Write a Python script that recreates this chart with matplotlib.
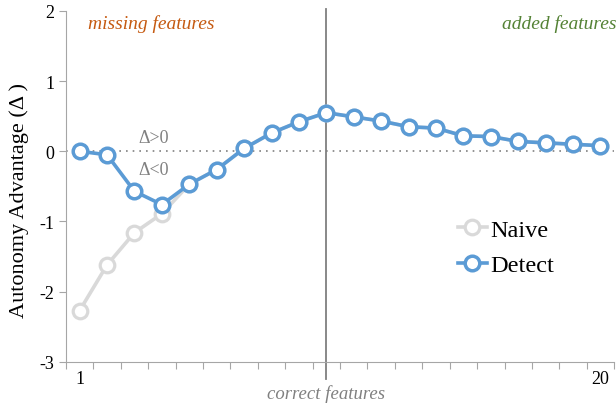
import matplotlib.pyplot as plt

# number of features on the x axis (category positions)
features = list(range(1, 21))
naive = [-2.27, -1.62, -1.16, -0.89, -0.47, -0.26, 0.04, 0.26, 0.42, 0.55,
         0.49, 0.43, 0.35, 0.33, 0.22, 0.21, 0.14, 0.12, 0.10, 0.08]
detect = [0.0, -0.05, -0.57, -0.76, -0.47, -0.26, 0.04, 0.26, 0.42, 0.55,
          0.49, 0.43, 0.35, 0.33, 0.22, 0.21, 0.14, 0.12, 0.10, 0.08]
y_ticks = [-3, -2, -1, 0, 1, 2]
correct_at = 10

plt.rcParams['font.family'] = ['Liberation Serif', 'DejaVu Serif']

fig = plt.figure(figsize=(6.16, 4.1), dpi=100)
ax = fig.add_axes([0.107, 0.115, 0.89, 0.856])

ax.plot(features, naive, color="#d9d9d9", lw=2.6, marker="o", ms=10.5,
        mfc="white", mec="#d9d9d9", mew=2.3, label="Naive", zorder=3)
ax.plot(features, detect, color="#5b9bd5", lw=2.6, marker="o", ms=10.5,
        mfc="white", mec="#5b9bd5", mew=2.5, label="Detect", zorder=4)

ax.axhline(0, color="#808080", lw=1.2, ls=(0, (1, 3)), zorder=1)
ax.plot([correct_at, correct_at], [-3.25, 2.03], color="#7f7f7f", lw=1.3,
        clip_on=False, zorder=2)

ax.set_xlim(0.5, 20.5)
ax.set_ylim(-3, 2)
ax.set_yticks(y_ticks)
ax.set_yticklabels([str(v) for v in y_ticks], fontsize=13)
ax.set_xticks([x + 0.5 for x in range(0, 21)])
ax.set_xticklabels([])
ax.set_xticks([1, 20], minor=True)
ax.set_xticklabels(["1", "20"], minor=True, fontsize=13)
ax.tick_params(axis="x", which="minor", length=0, pad=6)
ax.tick_params(axis="x", which="major", length=5, color="#a6a6a6")
ax.tick_params(axis="y", length=5, color="#a6a6a6")

for s in ["top", "right"]:
    ax.spines[s].set_visible(False)
for s in ["left", "bottom"]:
    ax.spines[s].set_color("#a6a6a6")

ax.set_ylabel("Autonomy Advantage (Δ )", fontsize=16)
ax.yaxis.set_label_coords(-0.068, 0.464)

ax.text(1.3, 1.82, "missing features", color="#c55a11", style="italic",
        fontsize=14, va="center")
ax.text(20.6, 1.82, "added features", color="#548235", style="italic",
        fontsize=14, va="center", ha="right")
ax.text(3.15, 0.2, "Δ>0", color="#808080", fontsize=13, va="center")
ax.text(3.15, -0.26, "Δ<0", color="#808080", fontsize=13, va="center")
ax.text(correct_at, -3.44, "correct features", color="#808080",
        style="italic", fontsize=13.5, ha="center", va="center")

ax.legend(loc="upper left", bbox_to_anchor=(0.675, 0.47), frameon=False,
          fontsize=17.5, handlelength=1.2, handletextpad=0.15,
          labelspacing=0.55)

fig.savefig("out.png")
